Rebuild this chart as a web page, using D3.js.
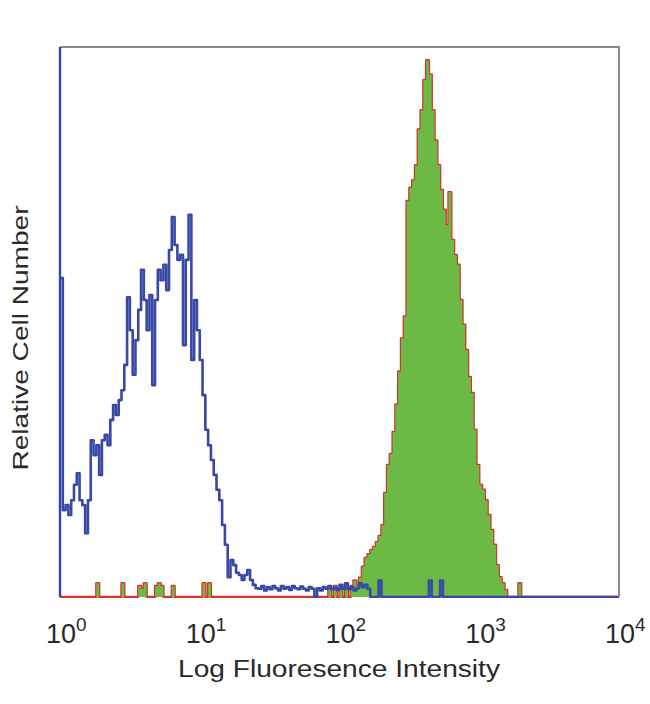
<!DOCTYPE html>
<html>
<head>
<meta charset="utf-8">
<script src="https://cdn.jsdelivr.net/npm/d3@7"></script>
<style>
  html, body { margin: 0; padding: 0; background: #fff; }
  svg { display: block; }
</style>
</head>
<body>
<svg id="chart" width="650" height="704"></svg>
<script>
// ---- data ----
// histogram bins: 200 log-spaced channels across 10^0 .. 10^4 (0.02 decade each)
const decades = [1, 10, 100, 1000, 10000];
const tickExponents = ["0", "1", "2", "3", "4"];
const binsPerDecade = 50;

// isotype control (blue outline)
const isotypeCounts = [
  58,15.8,16.7,14.9,17.6,20.4,22.5,17.6,16.7,11.6,
  17.6,28.5,25.8,27.6,22.2,28.5,29.5,27.6,32.2,34.9,
  33.1,35.8,37.6,42.2,54.5,48.5,40.4,46.7,52.2,59.5,
  54,48.5,54.9,38.5,54,59.5,57.6,60.4,55.8,63.1,
  69.1,64,61.3,62.2,45.8,61.3,69.5,43.1,54,48.5,
  43.1,36.7,30.4,27.6,24.9,22.2,19.5,17.6,13.1,9.5,
  3.6,6.7,5.8,4.4,4,3.1,4,4.9,3.1,2.2,
  1.6,1.5,2,1.2,1.8,1.4,2,1.6,1.2,2,
  1.5,1.8,1.3,2,1.6,1.4,1.9,1.5,1.2,1.8,
  1.5,0,1.6,1.2,1.8,1.5,2,1.4,1.7,1.3,
  2.2,1.5,2.4,1.4,1.8,1.2,1.6,2.5,1.8,2.2,
  1.5,0,0,0,3,0,0,0,0,0,
  0,0,0,0,0,0,0,0,0,0,
  0,0,3,0,0,0,3,0,0,0,
  0,0,0,0,0,0,0,0,0,0,
  0,0,0,0,0,0,0,0,0,0,
  0,0,0,0,0,0,0,0,0,0,
  0,0,0,0,0,0,0,0,0,0,
  0,0,0,0,0,0,0,0,0,0,
  0,0,0,0,0,0,0,0,0,0
];

// stained sample (green fill, red outline)
const stainedCounts = [
  0,0,0,0,0,0,0,0,0,0,
  0,0,0,2.5,0,0,0,0,0,0,
  0,0,2.5,0,0,0,0,0,2,1.5,
  2.5,0,0,0,2,2.5,2,0,0,0,
  2,0,0,0,0,0,0,0,0,0,
  0,2.5,0,2.5,0,0,0,0,0,0,
  0,0,0,0,0,0,0,0,0,0,
  0,0,0,0,0,0,0,0,0,0,
  0,0,0,0,0,0,0,0,0,0,
  0,0,0,0,0,0,1.5,0,2,0,
  1.5,0,2.5,0,2,3,2,3.5,5.5,7.1,
  7.8,8.5,9.1,10,11.1,13.1,18.9,24,26,30,
  35,41,47,51,72,74.4,75.8,78.5,85,88.5,
  94,97.6,95,88.5,83,78.5,74,70.4,67.6,73.6,
  64.9,62.2,60.4,54,49.5,44.9,40,37.1,30.4,24,
  20.4,19.5,17.6,14.9,12.2,9.5,5.8,3.6,2.5,1.3,
  0,0,0,0,2.5,0,0,0,0,0,
  0,0,0,0,0,0,0,0,0,0,
  0,0,0,0,0,0,0,0,0,0,
  0,0,0,0,0,0,0,0,0,0
];

const xLabel = "Log Fluoresence Intensity";
const yLabel = "Relative Cell Number";

// ---- layout ----
const L = 60, R = 619, T = 47, B = 597;
const svg = d3.select("#chart");

const x = d3.scaleLog().domain([1, 10000]).range([L, R]);
const y = d3.scaleLinear().domain([0, 100]).range([B, T]);

const edge = i => Math.pow(10, i / binsPerDecade);
function toPoints(counts) {
  const pts = counts.map((c, i) => [edge(i), c]);
  pts.push([edge(counts.length), counts[counts.length - 1]]);
  return pts;
}

svg.append("defs").append("clipPath").attr("id", "plotClip")
  .append("rect").attr("x", L).attr("y", T - 1).attr("width", R - L).attr("height", B - T + 2);

const g = svg.append("g").attr("clip-path", "url(#plotClip)");

const line = d3.line().x(d => x(d[0])).y(d => y(d[1])).curve(d3.curveStepAfter);
const area = d3.area().x(d => x(d[0])).y0(y(0)).y1(d => y(d[1])).curve(d3.curveStepAfter);

const stainedPts = toPoints(stainedCounts);
const isoPts = toPoints(isotypeCounts);

// red outline under green fill
g.append("path").attr("d", line(stainedPts))
  .attr("fill", "none").attr("stroke", "#d2342c").attr("stroke-width", 2.4)
  .attr("stroke-linejoin", "round");
g.append("path").attr("d", area(stainedPts))
  .attr("fill", "#6cb946").attr("stroke", "none");

// frame (top/right gray)
svg.append("path")
  .attr("d", `M${L},${T}H${R}V${B}`)
  .attr("fill", "none").attr("stroke", "#8a8a8a").attr("stroke-width", 2);

// blue isotype line
g.append("path").attr("d", line(isoPts))
  .attr("fill", "none").attr("stroke", "#3848a6").attr("stroke-width", 2.6)
  .attr("stroke-linejoin", "round");

// left axis line (blue)
svg.append("line").attr("x1", L).attr("x2", L).attr("y1", T).attr("y2", B)
  .attr("stroke", "#3646a4").attr("stroke-width", 2.4);

// x tick labels
const fontFam = "'Liberation Sans', Arial, sans-serif";
const ticks = svg.append("g").attr("fill", "#2a2a2a").attr("font-family", fontFam);
decades.forEach((d, i) => {
  const cx = x(d);
  ticks.append("text").attr("x", cx + 16).attr("y", 643)
    .attr("text-anchor", "end").attr("font-size", 27).text("10");
  ticks.append("text").attr("x", cx + 16).attr("y", 631)
    .attr("text-anchor", "start").attr("font-size", 19).text(tickExponents[i]);
});

// axis titles
svg.append("text").attr("x", 339).attr("y", 677)
  .attr("text-anchor", "middle").attr("font-family", fontFam)
  .attr("font-size", 23).attr("fill", "#2a2a2a")
  .attr("textLength", 322).attr("lengthAdjust", "spacingAndGlyphs")
  .text(xLabel);

svg.append("text")
  .attr("transform", "translate(28,338) rotate(-90)")
  .attr("text-anchor", "middle").attr("font-family", fontFam)
  .attr("font-size", 22).attr("fill", "#2a2a2a")
  .attr("textLength", 265).attr("lengthAdjust", "spacingAndGlyphs")
  .text(yLabel);
</script>
</body>
</html>
